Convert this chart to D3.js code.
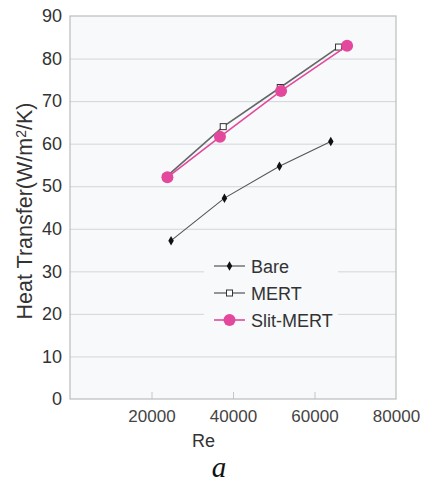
<!DOCTYPE html>
<html lang="en">
<head>
<meta charset="utf-8">
<style>
  body { margin: 0; background: #fff; }
  svg { display: block; font-family: "Liberation Sans", Arial, sans-serif; }
</style>
</head>
<body>
<svg width="425" height="482"></svg>
<script src="https://cdn.jsdelivr.net/npm/d3@7"></script>
<script>
// values
var seriesNames = ["Bare", "MERT", "Slit-MERT"];
var bareRe   = [24800, 37900, 51400, 64000];
var bareHT   = [37.2, 47.2, 54.7, 60.5];
var mertRe   = [23600, 37600, 51600, 65900];
var mertHT   = [52.2, 64.0, 73.2, 82.7];
var slitRe   = [23900, 36800, 51800, 68000];
var slitHT   = [52.1, 61.6, 72.4, 83.0];
var xTicks   = [20000, 40000, 60000, 80000];
var yTicks   = [0, 10, 20, 30, 40, 50, 60, 70, 80, 90];

var pink = "#e4489d";
var svg = d3.select("svg");
var pLeft = 70, pRight = 396, pTop = 16, pBottom = 399;

var x = d3.scaleLinear().domain([0, 80000]).range([pLeft, pRight]);
var y = d3.scaleLinear().domain([0, 90]).range([pBottom, pTop]);

// plot background
svg.append("rect")
    .attr("x", pLeft).attr("y", pTop)
    .attr("width", pRight - pLeft).attr("height", pBottom - pTop)
    .attr("fill", "#f7f9fb");

// horizontal grid
svg.append("g")
    .attr("transform", "translate(" + pLeft + ",0)")
    .call(d3.axisLeft(y).tickValues(yTicks.slice(1, -1)).tickSize(-(pRight - pLeft)).tickFormat(""))
    .call(function (g) {
        g.select(".domain").remove();
        g.selectAll("line").attr("stroke", "#d3d6d8").attr("stroke-width", 1);
    });

// y tick labels
svg.append("g")
    .attr("transform", "translate(" + pLeft + ",0)")
    .call(d3.axisLeft(y).tickValues(yTicks).tickSize(0).tickPadding(8))
    .call(function (g) {
        g.select(".domain").remove();
        g.selectAll("text").attr("font-size", 18).attr("fill", "#333")
            .attr("font-family", "Liberation Sans, Arial, sans-serif");
    });

// x axis: small inward ticks and labels
svg.append("g")
    .attr("transform", "translate(0," + pBottom + ")")
    .call(d3.axisTop(x).tickValues(xTicks.slice(0, -1)).tickSize(7).tickFormat(""))
    .call(function (g) {
        g.select(".domain").remove();
        g.selectAll("line").attr("stroke", "#c4c7ca");
    });
svg.append("g")
    .attr("transform", "translate(0," + pBottom + ")")
    .call(d3.axisBottom(x).tickValues(xTicks).tickSize(0).tickPadding(11).tickFormat(d3.format("d")))
    .call(function (g) {
        g.select(".domain").remove();
        g.selectAll("text").attr("font-size", 17).attr("fill", "#444")
            .attr("font-family", "Liberation Sans, Arial, sans-serif");
    });

// plot frame
svg.append("rect")
    .attr("x", pLeft).attr("y", pTop)
    .attr("width", pRight - pLeft).attr("height", pBottom - pTop)
    .attr("fill", "none").attr("stroke", "#b9bcbf").attr("stroke-width", 1.2);

var line = d3.line().x(function (d) { return x(d[0]); }).y(function (d) { return y(d[1]); });
var bare = d3.zip(bareRe, bareHT);
var mert = d3.zip(mertRe, mertHT);
var slit = d3.zip(slitRe, slitHT);

// Bare
svg.append("path").datum(bare).attr("d", line)
    .attr("fill", "none").attr("stroke", "#555").attr("stroke-width", 1.1);
svg.selectAll(".bare").data(bare).enter().append("path")
    .attr("class", "bare")
    .attr("transform", function (d) { return "translate(" + x(d[0]) + "," + y(d[1]) + ")"; })
    .attr("d", d3.symbol(d3.symbolDiamond, 26))
    .attr("fill", "#111");

// MERT
svg.append("path").datum(mert).attr("d", line)
    .attr("fill", "none").attr("stroke", "#666").attr("stroke-width", 1.6);
svg.selectAll(".mert").data(mert).enter().append("rect")
    .attr("class", "mert")
    .attr("x", function (d) { return x(d[0]) - 3; })
    .attr("y", function (d) { return y(d[1]) - 3; })
    .attr("width", 6).attr("height", 6)
    .attr("fill", "#fff").attr("stroke", "#333").attr("stroke-width", 1);

// Slit-MERT
svg.append("path").datum(slit).attr("d", line)
    .attr("fill", "none").attr("stroke", pink).attr("stroke-width", 1.6);
svg.selectAll(".slit").data(slit).enter().append("circle")
    .attr("class", "slit")
    .attr("cx", function (d) { return x(d[0]); })
    .attr("cy", function (d) { return y(d[1]); })
    .attr("r", 6)
    .attr("fill", pink);

// legend
var legend = svg.append("g");
legend.append("rect")
    .attr("x", 204).attr("y", 252).attr("width", 134).attr("height", 84)
    .attr("fill", "#f7f9fb");
var rowY = [266, 293, 320];
seriesNames.forEach(function (name, i) {
    var g = legend.append("g").attr("transform", "translate(0," + rowY[i] + ")");
    g.append("line").attr("x1", 214).attr("x2", 245).attr("y1", 0).attr("y2", 0)
        .attr("stroke", i === 2 ? pink : "#444").attr("stroke-width", i === 2 ? 1.6 : 1.1);
    if (i === 0) {
        g.append("path").attr("transform", "translate(229.5,0)")
            .attr("d", d3.symbol(d3.symbolDiamond, 26)).attr("fill", "#111");
    } else if (i === 1) {
        g.append("rect").attr("x", 226.5).attr("y", -3).attr("width", 6).attr("height", 6)
            .attr("fill", "#fff").attr("stroke", "#333");
    } else {
        g.append("circle").attr("cx", 229.5).attr("cy", 0).attr("r", 6).attr("fill", pink);
    }
    g.append("text").attr("x", 251).attr("y", 6.5)
        .attr("font-size", 18).attr("fill", "#333").text(name);
});

// axis titles
svg.append("text")
    .attr("x", 192).attr("y", 447)
    .attr("font-size", 18).attr("fill", "#333").text("Re");

var yl = svg.append("text")
    .attr("transform", "translate(32,211) rotate(-90)")
    .attr("text-anchor", "middle")
    .attr("font-size", 21.5).attr("fill", "#333");
yl.append("tspan").text("Heat Transfer(W/m");
yl.append("tspan").attr("font-size", 14).attr("dy", -6).text("2");
yl.append("tspan").attr("dy", 6).text("/K)");

svg.append("text")
    .attr("x", 219).attr("y", 477)
    .attr("text-anchor", "middle")
    .attr("font-family", "Liberation Serif, Times New Roman, serif")
    .attr("font-style", "italic")
    .attr("font-size", 29).attr("fill", "#111").text("a");
</script>
</body>
</html>
